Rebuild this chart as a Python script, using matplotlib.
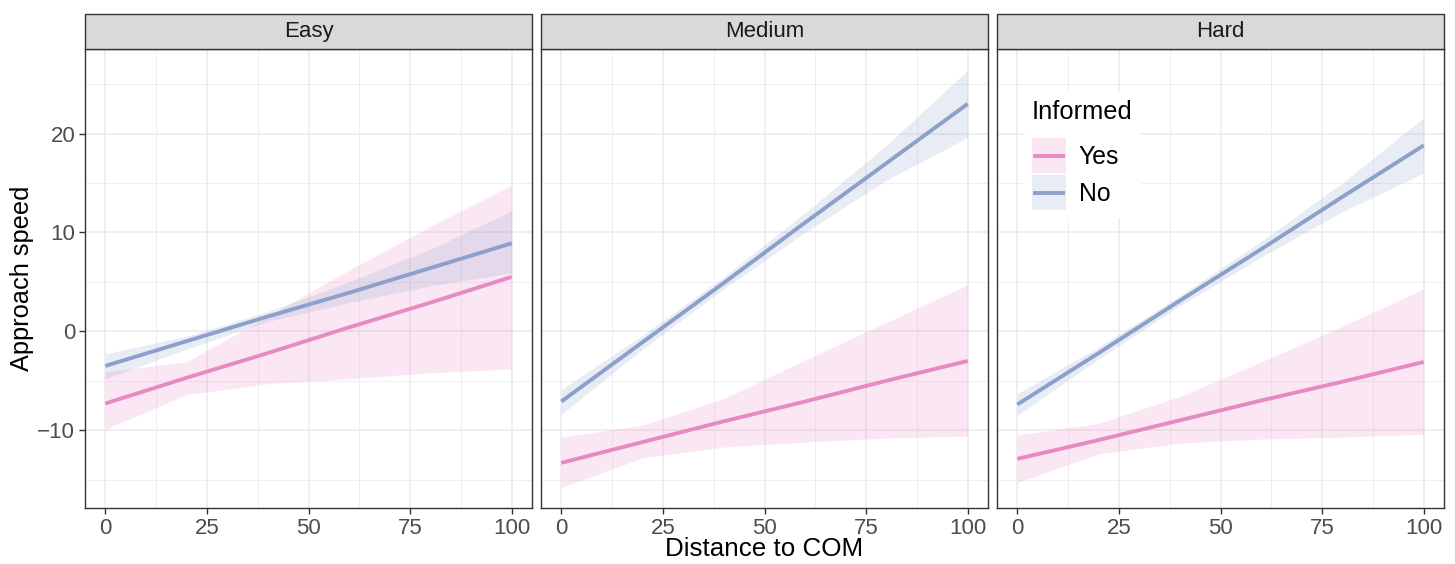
import numpy as np
import matplotlib
matplotlib.use("Agg")
import matplotlib.pyplot as plt
from matplotlib.patches import Rectangle
from matplotlib.lines import Line2D
from matplotlib.legend_handler import HandlerBase

plt.rcParams['font.family'] = ['Liberation Sans', 'DejaVu Sans']

# x positions where the fitted curves / bands are read
xs = [0, 20, 40, 60, 80, 100]
panels = ["Easy", "Medium", "Hard"]

# Informed = Yes (pink)
yes_fit = {
    "Easy":   [-7.3, -4.7, -2.2, 0.4, 2.9, 5.5],
    "Medium": [-13.3, -11.2, -9.1, -7.1, -5.0, -3.0],
    "Hard":   [-12.9, -11.0, -9.0, -7.0, -5.1, -3.1],
}
yes_hi = {
    "Easy":   [-4.1, -3.1, 1.5, 6.2, 10.6, 14.8],
    "Medium": [-10.7, -9.5, -6.8, -2.9, 0.9, 4.7],
    "Hard":   [-10.5, -9.3, -6.6, -3.1, 0.5, 4.3],
}
yes_lo = {
    "Easy":   [-9.9, -6.4, -5.3, -4.8, -4.2, -3.8],
    "Medium": [-15.8, -12.8, -11.7, -11.2, -10.8, -10.6],
    "Hard":   [-15.3, -12.4, -11.3, -10.9, -10.7, -10.4],
}

# Informed = No (blue)
no_fit = {
    "Easy":   [-3.5, -1.0, 1.5, 3.9, 6.4, 8.9],
    "Medium": [-7.1, -1.1, 4.9, 11.0, 17.0, 23.0],
    "Hard":   [-7.4, -2.2, 3.1, 8.3, 13.6, 18.8],
}
no_hi = {
    "Easy":   [-2.3, -0.5, 2.0, 5.0, 8.3, 12.2],
    "Medium": [-5.9, -0.4, 5.5, 12.0, 18.8, 26.4],
    "Hard":   [-6.3, -1.6, 3.6, 9.1, 15.0, 21.6],
}
no_lo = {
    "Easy":   [-4.8, -1.8, 1.0, 2.9, 4.6, 5.9],
    "Medium": [-8.4, -1.8, 4.3, 10.0, 15.3, 19.6],
    "Hard":   [-8.5, -2.8, 2.6, 7.5, 12.1, 16.0],
}

pink = '#E78AC3'
blue = '#8DA0CB'
dark = '#333333'


# legend key: shaded box with the line through its middle (like geom_smooth)
class SmoothKey(HandlerBase):
    def create_artists(self, legend, orig_handle, xdescent, ydescent,
                       width, height, fontsize, trans):
        col = orig_handle
        box = Rectangle((-xdescent, -ydescent), width, height, facecolor=col,
                        alpha=0.2, lw=0, transform=trans)
        yc = -ydescent + height / 2
        ln = Line2D([-xdescent + 2, -xdescent + width - 2], [yc, yc], color=col,
                    lw=2.8, transform=trans)
        return [box, ln]


fig = plt.figure(figsize=(14.55, 5.64), dpi=100)
W, H = 1455.0, 564.0
lefts = [85, 541, 997]
width = 447
ptop, pbot = 49, 508.3
strip_h = 35

axes = []
for i, name in enumerate(panels):
    ax = fig.add_axes([lefts[i] / W, 1 - pbot / H, width / W, (pbot - ptop) / H])
    axes.append(ax)
    ax.set_xlim(-5, 105)
    ax.set_ylim(-17.9, 28.55)
    ax.set_xticks([0, 25, 50, 75, 100])
    ax.set_yticks([-10, 0, 10, 20])
    ax.set_xticks([12.5, 37.5, 62.5, 87.5], minor=True)
    ax.set_yticks([-15, -5, 5, 15, 25], minor=True)
    ax.grid(which='major', color='#EBEBEB', lw=1.1)
    ax.grid(which='minor', color='#EBEBEB', lw=0.55)
    ax.set_axisbelow(True)
    for s in ax.spines.values():
        s.set_color(dark)
        s.set_linewidth(1.0)
    ax.tick_params(which='major', length=4, width=1.0, color=dark,
                   labelsize=16, labelcolor='#4D4D4D', pad=3)
    ax.tick_params(which='minor', length=0)
    if i > 0:
        ax.tick_params(axis='y', labelleft=False, left=False)

    ax.fill_between(xs, yes_lo[name], yes_hi[name], color=pink, alpha=0.2, lw=0)
    ax.plot(xs, yes_fit[name], color=pink, lw=2.8, solid_capstyle='butt')
    ax.fill_between(xs, no_lo[name], no_hi[name], color=blue, alpha=0.2, lw=0)
    ax.plot(xs, no_fit[name], color=blue, lw=2.8, solid_capstyle='butt')

    # facet strip
    sx = lefts[i] / W
    sy = 1 - ptop / H
    fig.patches.append(Rectangle((sx, sy), width / W, strip_h / H,
                                 transform=fig.transFigure, facecolor='#D9D9D9',
                                 edgecolor=dark, lw=1.0))
    fig.text(sx + width / W / 2, sy + strip_h / H / 2, name, ha='center',
             va='center', fontsize=16, color='#1A1A1A')

fig.text(22 / W, 1 - 278 / H, "Approach speed", rotation=90, ha='center',
         va='center', fontsize=18.3)
fig.text((85 + 1444) / 2 / W, 1 - 549 / H, "Distance to COM", ha='center',
         va='center', fontsize=18.7)

leg = axes[2].legend([pink, blue], ["Yes", "No"], title="Informed",
                     handler_map={str: SmoothKey()},
                     loc='upper left', bbox_to_anchor=(0.0626, 0.9045),
                     frameon=True, fancybox=False, framealpha=1, edgecolor='white',
                     fontsize=17.8, title_fontsize=18.4, handlelength=1.38,
                     handleheight=1.80, labelspacing=0.093, handletextpad=0.52,
                     borderpad=0.28, borderaxespad=0)
leg._legend_box.align = "left"
leg._legend_box.sep = 10.3  # gap between title and keys (points)

fig.savefig("out.png", dpi=100)
